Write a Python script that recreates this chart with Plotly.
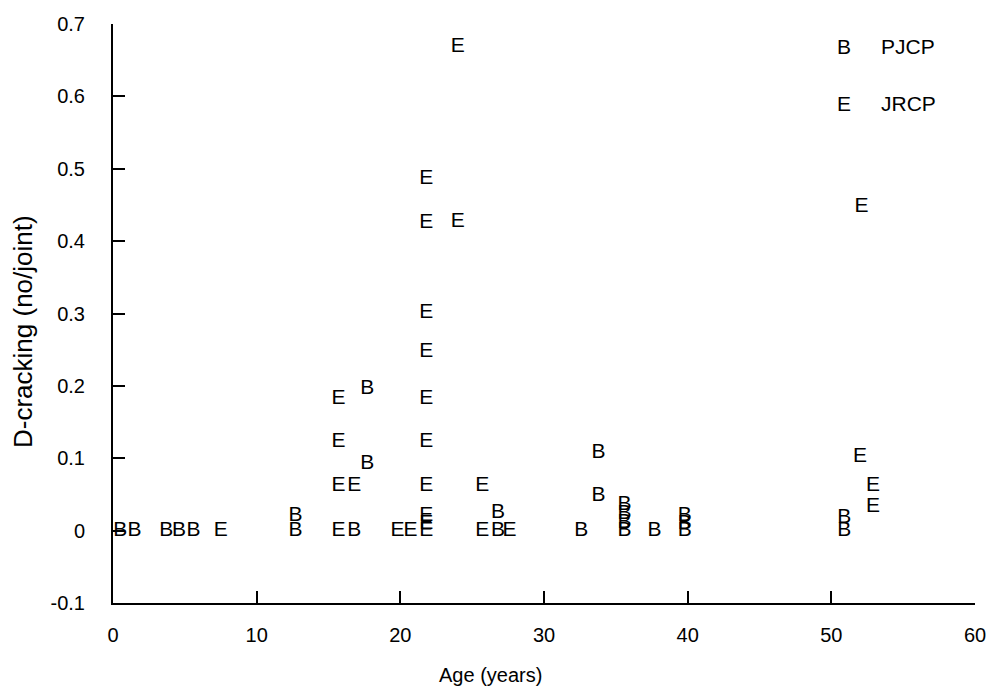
import plotly.graph_objects as go

# PJCP series (marker "B")
pjcp_age = [0.5, 1.5, 3.7, 4.6, 5.6, 12.7, 12.7, 16.8, 17.7, 17.7, 26.8, 26.8,
            32.6, 33.8, 33.8, 35.6, 35.6, 35.6, 35.6, 37.7, 39.8, 39.8, 39.8,
            50.9, 50.9]
pjcp_dc = [0, 0, 0, 0, 0, 0.02, 0, 0, 0.196, 0.093, 0.025, 0,
           0, 0.108, 0.048, 0.036, 0.024, 0.011, 0, 0, 0.02, 0.01, 0,
           0.018, 0]

# JRCP series (marker "E")
jrcp_age = [7.5, 15.7, 15.7, 15.7, 15.7, 16.8, 19.8, 20.7,
            21.8, 21.8, 21.8, 21.8, 21.8, 21.8, 21.8, 21.8, 21.8, 21.8,
            24.0, 24.0, 25.7, 25.7, 27.6, 52.1, 52.0, 52.9, 52.9]
jrcp_dc = [0, 0.182, 0.123, 0.062, 0, 0.062, 0, 0,
           0, 0.01, 0.02, 0.062, 0.123, 0.182, 0.247, 0.301, 0.425, 0.486,
           0.668, 0.427, 0.062, 0, 0, 0.447, 0.102, 0.062, 0.033]

x_ticks = [0, 10, 20, 30, 40, 50, 60]
y_ticks = [-0.1, 0, 0.1, 0.2, 0.3, 0.4, 0.5, 0.6, 0.7]
y_tick_text = ["-0.1", "0", "0.1", "0.2", "0.3", "0.4", "0.5", "0.6", "0.7"]

FONT = "Liberation Sans, Arial, sans-serif"

fig = go.Figure()
fig.add_trace(go.Scatter(x=pjcp_age, y=pjcp_dc, mode="text", text=["B"] * len(pjcp_age),
                         textposition="middle center", name="PJCP",
                         textfont=dict(family=FONT, size=21, color="black")))
fig.add_trace(go.Scatter(x=jrcp_age, y=jrcp_dc, mode="text", text=["E"] * len(jrcp_age),
                         textposition="middle center", name="JRCP",
                         textfont=dict(family=FONT, size=21, color="black")))

axis_common = dict(showline=True, linecolor="black", linewidth=2, mirror=False,
                   ticks="inside", ticklen=12, tickwidth=2, tickcolor="black",
                   showgrid=False, zeroline=False, automargin=False,
                   tickfont=dict(family=FONT, size=20, color="black"))

fig.update_layout(
    width=989, height=687,
    margin=dict(l=113, r=14, t=24, b=84),
    paper_bgcolor="white", plot_bgcolor="white",
    showlegend=False,
    xaxis=dict(range=[0, 60], tickvals=x_ticks, ticklabelstandoff=13, **axis_common),
    yaxis=dict(range=[-0.1, 0.7], tickvals=y_ticks, ticktext=y_tick_text,
               ticklabelstandoff=22, **axis_common),
)

# axis titles
fig.add_annotation(text="Age (years)", xref="paper", yref="paper",
                   x=(490 - 113) / 862, y=(603 - 675) / 579, showarrow=False,
                   xanchor="center", yanchor="middle",
                   font=dict(family=FONT, size=20, color="black"))
fig.add_annotation(text="D-cracking (no/joint)", xref="paper", yref="paper",
                   x=(23 - 113) / 862, y=(603 - 332) / 579, showarrow=False,
                   textangle=-90, xanchor="center", yanchor="middle",
                   font=dict(family=FONT, size=26, color="black"))

# legend
legend_items = [("B", "PJCP", 47), ("E", "JRCP", 104)]
for sym, lab, py in legend_items:
    fig.add_annotation(text=sym, xref="paper", yref="paper",
                       x=(844 - 113) / 862, y=(603 - py) / 579, showarrow=False,
                       xanchor="center", yanchor="middle",
                       font=dict(family=FONT, size=21, color="black"))
    fig.add_annotation(text=lab, xref="paper", yref="paper",
                       x=(879 - 113) / 862, y=(603 - py) / 579, showarrow=False,
                       xanchor="left", yanchor="middle",
                       font=dict(family=FONT, size=21, color="black"))

fig.write_html("out.html")
